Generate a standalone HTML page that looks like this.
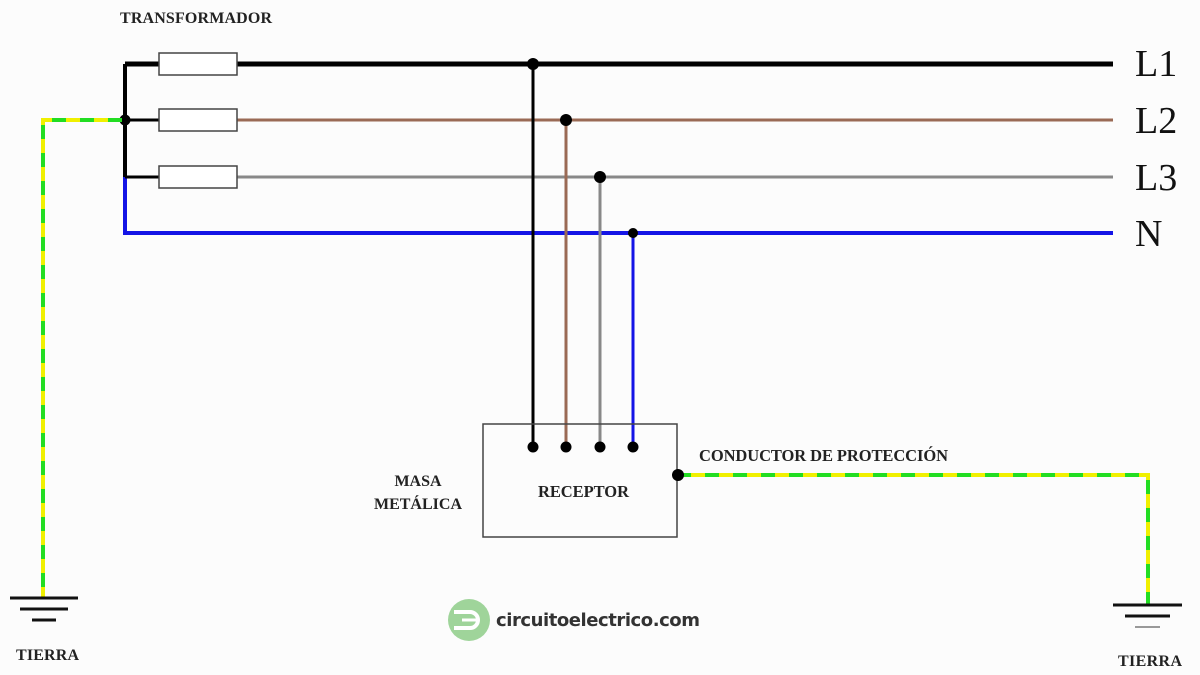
<!DOCTYPE html>
<html><head><meta charset="utf-8"><style>
html,body{margin:0;padding:0;background:#fcfcfc;}
svg{display:block;}
.t{font-family:"Liberation Serif",serif;font-weight:bold;fill:#222;}
</style></head><body>
<svg width="1200" height="675" viewBox="0 0 1200 675" xmlns="http://www.w3.org/2000/svg">
<rect width="1200" height="675" fill="#fcfcfc"/>
<text class="t" x="120" y="23" font-size="16" textLength="152">TRANSFORMADOR</text>
<path d="M125 64 V177" stroke="#000" stroke-width="4" fill="none"/>
<path d="M125 177 V233 H1113" stroke="#1414e6" stroke-width="4" fill="none"/>
<path d="M125 64 H160 M237 64 H1113" stroke="#000" stroke-width="5"/>
<path d="M125 120 H160 M125 177 H160" stroke="#000" stroke-width="3"/>
<path d="M237 120 H1113" stroke="#9a6a55" stroke-width="3"/>
<path d="M237 177 H1113" stroke="#888" stroke-width="3"/>
<g fill="#fff" stroke="#444" stroke-width="1.5">
<rect x="159" y="53" width="78" height="22"/>
<rect x="159" y="109" width="78" height="22"/>
<rect x="159" y="166" width="78" height="22"/>
</g>
<circle cx="125" cy="120" r="5.5" fill="#000"/>
<path d="M122 120 H43 V598" stroke="#f0f000" stroke-width="4" fill="none"/>
<path d="M122 120 H43 V598" stroke="#22dd22" stroke-width="4" fill="none" stroke-dasharray="14 14"/>
<path d="M10 598 H78 M20 609 H68 M32 620 H56" stroke="#111" stroke-width="3"/>
<text class="t" x="16" y="660" font-size="16" textLength="63">TIERRA</text>
<g font-family="Liberation Serif,serif" font-size="38" fill="#111">
<text x="1135" y="76">L1</text>
<text x="1135" y="133">L2</text>
<text x="1135" y="190">L3</text>
<text x="1135" y="246">N</text>
</g>
<path d="M533 64 V447" stroke="#000" stroke-width="3"/>
<path d="M566 120 V447" stroke="#9a6a55" stroke-width="3"/>
<path d="M600 177 V447" stroke="#888" stroke-width="3"/>
<path d="M633 233 V447" stroke="#1414e6" stroke-width="3"/>
<g fill="#000">
<circle cx="533" cy="64" r="6"/><circle cx="566" cy="120" r="6"/><circle cx="600" cy="177" r="6"/><circle cx="633" cy="233" r="5"/>
<circle cx="533" cy="447" r="5.5"/><circle cx="566" cy="447" r="5.5"/><circle cx="600" cy="447" r="5.5"/><circle cx="633" cy="447" r="5.5"/>
</g>
<rect x="483" y="424" width="194" height="113" fill="none" stroke="#444" stroke-width="1.5"/>
<text class="t" x="538" y="497" font-size="16.5" textLength="91">RECEPTOR</text>
<text class="t" x="418" y="486" font-size="16" text-anchor="middle">MASA</text>
<text class="t" x="418" y="509" font-size="16" text-anchor="middle">METÁLICA</text>
<text class="t" x="699" y="461" font-size="16.5" textLength="249">CONDUCTOR DE PROTECCIÓN</text>
<path d="M677 475 H1148 V604" stroke="#f0f000" stroke-width="4" fill="none"/>
<path d="M677 475 H1148 V604" stroke="#22dd22" stroke-width="4" fill="none" stroke-dasharray="14 14"/>
<circle cx="678" cy="475" r="6" fill="#000"/>
<path d="M1113 605 H1182 M1125 616 H1170" stroke="#111" stroke-width="3"/>
<path d="M1135 627 H1160" stroke="#999" stroke-width="2"/>
<text class="t" x="1118" y="666" font-size="16" textLength="64">TIERRA</text>
<circle cx="469" cy="620" r="21" fill="#9fd49a"/>
<path d="M454 612 H470 A8 8 0 0 1 470 628 H454" stroke="#fff" stroke-width="4" fill="none"/>
<path d="M462 620 H478" stroke="#fff" stroke-width="3"/>
<text x="496" y="626" font-family="DejaVu Sans,sans-serif" font-size="18" font-weight="bold" fill="#333" textLength="204">circuitoelectrico.com</text>
</svg>
</body></html>
